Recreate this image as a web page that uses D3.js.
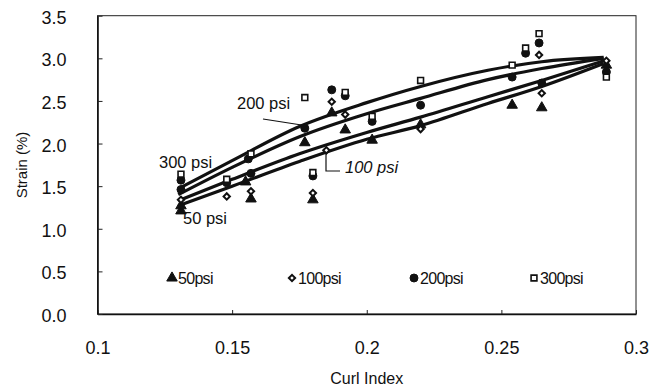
<!DOCTYPE html>
<html>
<head>
<meta charset="utf-8">
<script src="https://cdn.jsdelivr.net/npm/d3@7"></script>
<style>
  body { margin: 0; background: #fff; }
  svg { display: block; }
  text { font-family: "Liberation Sans", Arial, Helvetica, sans-serif; fill: #111; }
</style>
</head>
<body>
<svg id="chart" width="654" height="390"></svg>
<script>
// Axis ticks
const xTicks = [0.1, 0.15, 0.2, 0.25, 0.3];
const yTicks = [0, 0.5, 1.0, 1.5, 2.0, 2.5, 3.0, 3.5];

// Measured strain (%) against curl index, one array of [curlIndex, strain] per pressure
const series = ["50psi", "100psi", "200psi", "300psi"];
const obs50 = [[0.131, 1.21], [0.131, 1.27], [0.155, 1.55], [0.157, 1.35], [0.177, 2.01],
               [0.180, 1.34], [0.187, 2.36], [0.192, 2.16], [0.202, 2.04], [0.220, 2.22],
               [0.254, 2.45], [0.265, 2.42], [0.289, 2.92]];
const obs100 = [[0.131, 1.34], [0.148, 1.38], [0.157, 1.44], [0.180, 1.42], [0.185, 1.92],
                [0.187, 2.49], [0.192, 2.34], [0.220, 2.17], [0.264, 3.04], [0.265, 2.59],
                [0.289, 2.97]];
const obs200 = [[0.131, 1.46], [0.131, 1.57], [0.148, 1.54], [0.157, 1.65], [0.156, 1.82],
                [0.177, 2.18], [0.180, 1.62], [0.187, 2.63], [0.192, 2.56], [0.202, 2.26],
                [0.220, 2.45], [0.254, 2.78], [0.259, 3.06], [0.264, 3.18], [0.265, 2.71],
                [0.289, 2.84]];
const obs300 = [[0.131, 1.64], [0.148, 1.58], [0.157, 1.88], [0.177, 2.54], [0.180, 1.66],
                [0.192, 2.60], [0.202, 2.32], [0.220, 2.74], [0.254, 2.92], [0.259, 3.12],
                [0.264, 3.29], [0.289, 2.78]];

// Trend curves for each pressure
const fitX   = [0.13, 0.15, 0.175, 0.2, 0.22, 0.245, 0.265, 0.288];
const fit50  = [1.27, 1.50, 1.79, 2.05, 2.21, 2.47, 2.67, 2.94];
const fit100 = [1.33, 1.58, 1.88, 2.13, 2.31, 2.55, 2.74, 2.97];
const fit200 = [1.40, 1.72, 2.08, 2.35, 2.53, 2.75, 2.88, 3.00];
const fit300 = [1.47, 1.80, 2.20, 2.48, 2.67, 2.86, 2.96, 3.01];

const svg = d3.select("#chart");
const plotLeft = 97.5, plotRight = 636, plotTop = 15.7, plotBottom = 314;

const x = d3.scaleLinear().domain([0.1, 0.3]).range([plotLeft, plotRight]);
const y = d3.scaleLinear().domain([0, 3.5]).range([plotBottom, plotTop]);

// Plot frame
svg.append("rect")
  .attr("x", plotLeft).attr("y", plotTop)
  .attr("width", plotRight - plotLeft).attr("height", plotBottom - plotTop)
  .attr("fill", "none").attr("stroke", "#222").attr("stroke-width", 1);

// Axes with inward ticks
const gx = svg.append("g").attr("transform", `translate(0,${plotBottom})`)
  .call(d3.axisBottom(x).tickValues(xTicks).tickSizeInner(-4).tickSizeOuter(0)
        .tickPadding(27).tickFormat(d => String(d)));
const gy = svg.append("g").attr("transform", `translate(${plotLeft},0)`)
  .call(d3.axisLeft(y).tickValues(yTicks).tickSizeInner(-5).tickSizeOuter(0)
        .tickPadding(31).tickFormat(d3.format(".1f")));
[gx, gy].forEach(g => {
  g.select(".domain").attr("stroke", "#111").attr("stroke-width", 1.6);
  g.selectAll(".tick line").attr("stroke", "#222").attr("stroke-width", 1);
  g.selectAll(".tick text").attr("font-size", 18).attr("fill", "#111")
    .style("font-family", "'Liberation Sans', Arial, sans-serif");
});
gy.selectAll(".tick text").attr("dy", "0.42em");

// Axis titles
svg.append("text").attr("x", (plotLeft + plotRight) / 2).attr("y", 384)
  .attr("text-anchor", "middle").attr("font-size", 16).text("Curl Index");
svg.append("text").attr("transform", "translate(27,165) rotate(-90)")
  .attr("text-anchor", "middle").attr("font-size", 15).text("Strain (%)");

// Trend curves
const line = d3.line().x(d => x(d[0])).y(d => y(d[1])).curve(d3.curveMonotoneX);
[fit50, fit100, fit200, fit300].forEach(vals => {
  svg.append("path")
    .datum(fitX.map((v, i) => [v, vals[i]]))
    .attr("d", line)
    .attr("fill", "none").attr("stroke", "#111")
    .attr("stroke-width", 3.2).attr("stroke-linejoin", "round");
});

// Marker styles per pressure
const markers = {
  "50psi":  { sym: d3.symbolTriangle, size: 48, fill: "#111", stroke: "#111", sw: 1, rot: 0 },
  "100psi": { sym: d3.symbolSquare,   size: 20, fill: "#fff", stroke: "#111", sw: 2, rot: 45 },
  "200psi": { sym: d3.symbolCircle,   size: 50, fill: "#111", stroke: "#111", sw: 1, rot: 0 },
  "300psi": { sym: d3.symbolSquare,   size: 34, fill: "#fff", stroke: "#111", sw: 1.6, rot: 0 }
};
function drawMarker(g, key, px, py) {
  const m = markers[key];
  g.append("path")
    .attr("d", d3.symbol().type(m.sym).size(m.size)())
    .attr("transform", `translate(${px},${py}) rotate(${m.rot})`)
    .attr("fill", m.fill).attr("stroke", m.stroke).attr("stroke-width", m.sw);
}

const obsBySeries = { "50psi": obs50, "100psi": obs100, "200psi": obs200, "300psi": obs300 };
const gPts = svg.append("g");
series.forEach(s => {
  obsBySeries[s].forEach(d => drawMarker(gPts, s, x(d[0]), y(d[1])));
});

// Curve labels and leader lines
const ann = svg.append("g").attr("font-size", 16.5);
ann.append("text").attr("x", 159).attr("y", 168).text("300 psi");
ann.append("text").attr("x", 237).attr("y", 109).text("200 psi");
ann.append("text").attr("x", 345).attr("y", 173).attr("font-style", "italic").text("100 psi");
ann.append("text").attr("x", 183).attr("y", 224).text("50 psi");
ann.append("line").attr("x1", 263).attr("y1", 119).attr("x2", 308).attr("y2", 126)
  .attr("stroke", "#111").attr("stroke-width", 1.2);
ann.append("polyline").attr("points", "326,152 326,171 340,171")
  .attr("fill", "none").attr("stroke", "#111").attr("stroke-width", 1.2);

// Legend inside the plot area
const legendX = [172, 292, 414, 534];
const legend = svg.append("g");
series.forEach((s, i) => {
  drawMarker(legend, s, legendX[i], 278);
  legend.append("text").attr("x", legendX[i] + 6).attr("y", 284)
    .attr("font-size", 16).attr("letter-spacing", -0.7).text(s);
});
</script>
</body>
</html>
